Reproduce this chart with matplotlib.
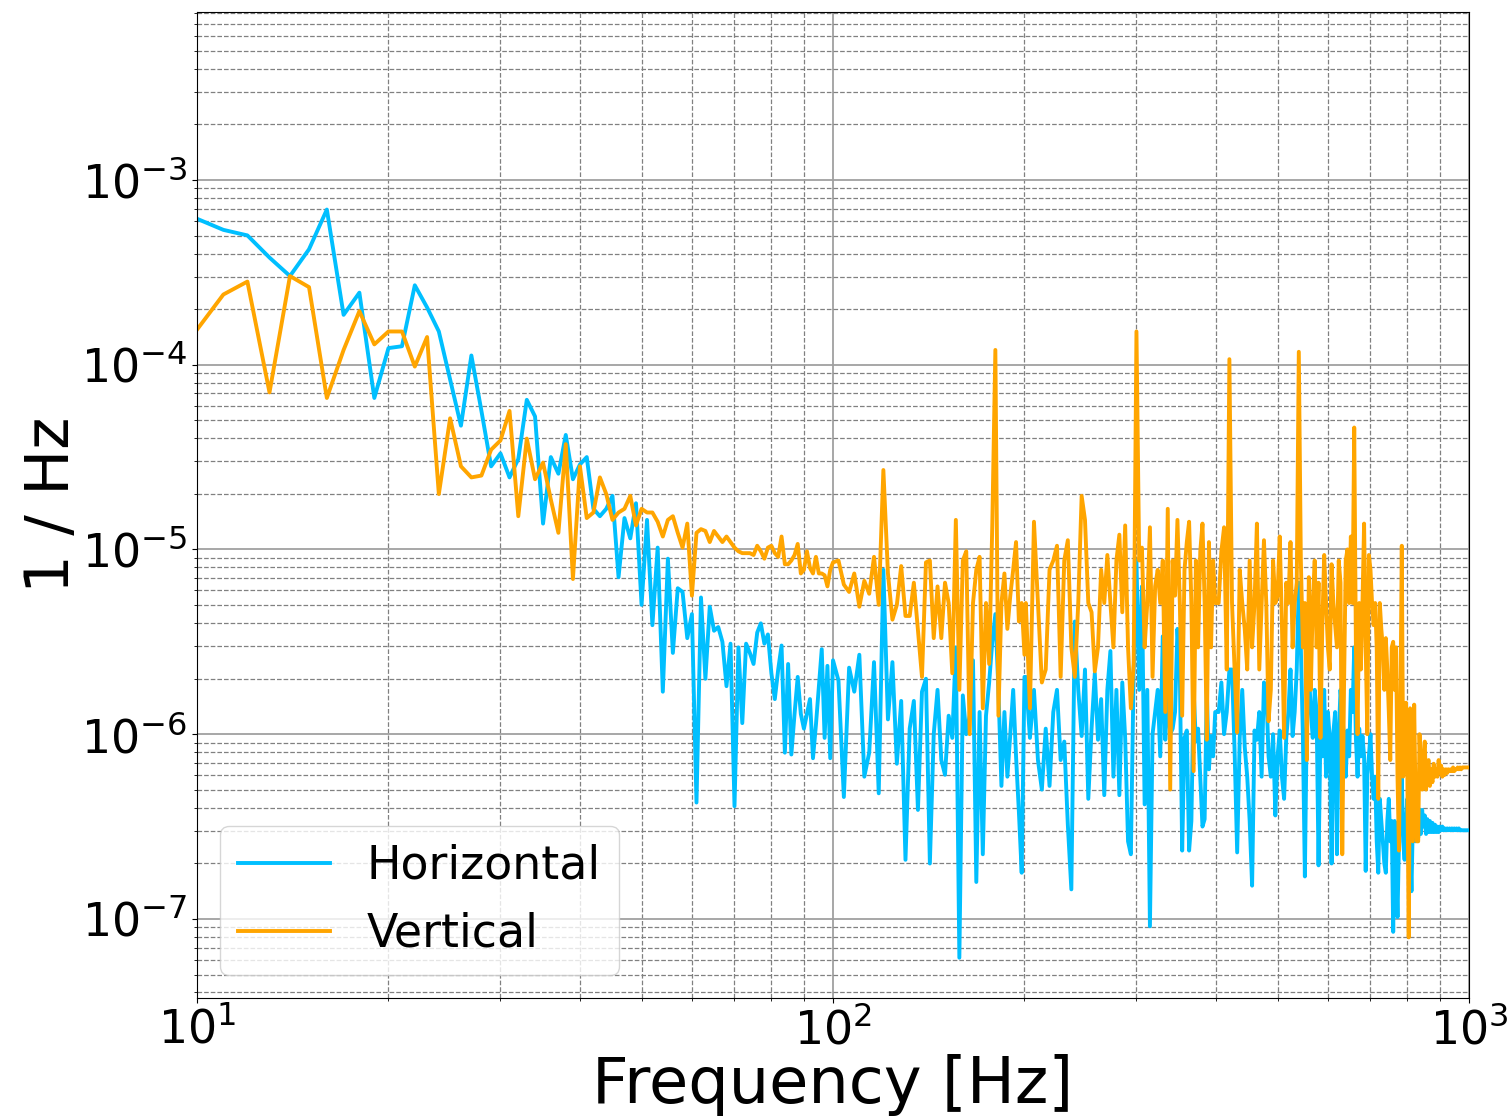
import numpy as np
import matplotlib
matplotlib.use("Agg")
import matplotlib.pyplot as plt

# frequency bins [Hz]
freq_a = np.arange(10, 101, 1)
freq_b = np.arange(102, 201, 2)
freq_c = np.arange(201, 400, 3)
freq_d = np.arange(404, 1001, 4)

# Horizontal PSD, log10 of value [1/Hz]
horiz_a = [-3.21, -3.27, -3.30, -3.42, -3.52, -3.375, -3.16, -3.73, -3.61, -4.18,
           -3.91, -3.90, -3.57, -3.69, -3.82, -4.08, -4.33, -3.95, -4.25, -4.55,
           -4.48, -4.61, -4.51, -4.19, -4.28, -4.86, -4.50, -4.59, -4.38, -4.62,
           -4.54, -4.50, -4.78, -4.82, -4.78, -4.71, -5.15, -4.83, -4.94, -4.75,
           -5.30, -4.84, -5.41, -4.99, -5.77, -5.05, -5.56, -5.21, -5.23, -5.48,
           -5.35, -6.37, -5.26, -5.70, -5.31, -5.44, -5.42, -5.50, -5.74, -5.51,
           -6.39, -5.53, -5.94, -5.51, -5.56, -5.62, -5.45, -5.40, -5.51, -5.46,
           -5.67, -5.81, -5.65, -5.52, -6.10, -5.62, -6.11, -5.89, -5.69, -5.89,
           -5.97, -5.89, -5.81, -6.13, -5.95, -5.74, -5.54, -6.02, -5.63, -6.13,
           -5.60]
horiz_b = [-5.71, -6.34, -5.64, -5.77, -5.57, -6.23, -6.10, -5.61, -6.32, -5.11,
           -5.92, -5.61, -6.16, -5.82, -6.68, -5.97, -5.82, -6.41, -5.77, -5.70,
           -6.70, -6.00, -5.76, -6.14, -6.22, -5.90, -6.02, -5.53, -7.21, -5.79,
           -6.00, -5.90, -5.60, -6.80, -5.88, -6.65, -5.90, -5.72, -5.50, -5.35,
           -5.76, -6.28, -5.88, -6.23, -6.00, -5.76, -6.12, -6.42, -6.75, -5.69]
horiz_c = [-5.69, -6.02, -5.76, -6.14, -6.30, -5.97, -6.28, -5.88, -5.76, -6.14,
           -6.04, -6.49, -6.84, -5.39, -5.76, -6.01, -5.65, -6.35, -5.97, -5.67,
           -6.03, -5.81, -6.33, -5.76, -5.55, -6.23, -5.76, -6.33, -5.72, -6.02,
           -6.58, -6.65, -5.65, -5.06, -5.76, -5.20, -6.38, -5.76, -7.04, -6.00,
           -5.88, -5.76, -6.12, -5.47, -6.03, -5.76, -6.00, -5.97, -5.88, -5.43,
           -5.65, -6.63, -6.02, -5.98, -6.63, -6.47, -5.76, -6.04, -5.97, -6.23,
           -6.50, -6.46, -5.76, -6.19, -6.01, -6.12, -5.88]
horiz_d = [-5.88, -5.72, -6.00, -5.88, -5.65, -5.65, -6.09, -6.64, -6.02, -5.76,
           -6.07, -6.23, -6.47, -6.82, -5.98, -6.03, -5.88, -6.23, -5.72, -5.76,
           -6.12, -6.23, -6.00, -6.44, -6.12, -5.98, -6.23, -6.35, -6.02, -5.88,
           -5.65, -6.01, -5.88, -5.65, -5.18,
           -5.53, -6.00, -6.77, -5.88, -5.65, -5.88, -6.02, -5.76, -5.88, -6.71,
           -5.98, -6.12, -5.76, -6.23, -5.88, -6.02, -6.70, -5.99, -5.88, -6.65,
           -6.01, -5.76, -5.88, -6.03, -6.23, -5.98, -6.12, -5.76, -5.88, -5.53,
           -6.02, -6.23, -5.97, -6.12, -6.01, -6.12, -6.74, -6.23, -6.12, -6.00,
           -6.23, -6.35, -6.23, -6.58, -6.75, -6.35, -6.47, -6.58, -6.70, -6.75,
           -6.47, -6.35, -6.58, -6.47, -7.07, -6.47, -6.70, -6.99, -6.58, -6.35,
           -6.23, -6.58, -6.68, -6.47, -6.35, -6.70, -6.58, -6.85, -6.47, -6.35,
           -6.58, -6.42, -6.56, -6.41, -6.54, -6.41, -6.50, -6.44, -6.54, -6.46,
           -6.53, -6.47, -6.53, -6.48, -6.53, -6.49, -6.53, -6.50, -6.53, -6.50,
           -6.52, -6.50, -6.52, -6.51, -6.52, -6.51, -6.52, -6.51, -6.52, -6.51,
           -6.52, -6.51, -6.52, -6.51, -6.52, -6.51, -6.52, -6.52, -6.52, -6.52,
           -6.52, -6.52, -6.52, -6.52, -6.52]

# Vertical PSD, log10 of value [1/Hz]
vert_a = [-3.81, -3.62, -3.55, -4.15, -3.52, -3.58, -4.18, -3.92, -3.71, -3.89,
          -3.82, -3.82, -4.01, -3.85, -4.70, -4.29, -4.55, -4.61, -4.60, -4.46,
          -4.41, -4.25, -4.82, -4.40, -4.62, -4.53, -4.73, -4.91, -4.43, -5.16,
          -4.55, -4.83, -4.80, -4.61, -4.70, -4.84, -4.80, -4.78, -4.71, -4.87,
          -4.78, -4.80, -4.80, -4.85, -4.93, -4.84, -4.82, -4.91, -4.99, -4.86,
          -5.25, -4.91, -4.89, -4.90, -4.96, -4.90, -4.93, -4.96, -4.93, -4.96,
          -4.99, -5.01, -5.02, -5.02, -5.02, -5.03, -4.98, -5.01, -5.05, -4.99,
          -4.98, -5.02, -5.04, -4.93, -5.08, -5.08, -5.06, -5.03, -4.97, -5.13,
          -5.11, -5.01, -5.10, -5.13, -5.04, -5.13, -5.13, -5.14, -5.20, -5.11,
          -5.07]
vert_b = [-5.06, -5.19, -5.23, -5.13, -5.31, -5.17, -5.24, -5.04, -5.30, -4.57,
          -5.13, -5.38, -5.30, -5.09, -5.36, -5.36, -5.18, -5.44, -5.69, -5.07,
          -5.06, -5.48, -5.20, -5.48, -5.18, -5.29, -5.67, -4.84, -5.76, -5.06,
          -5.01, -6.00, -5.29, -5.11, -5.04, -5.86, -5.29, -5.62, -4.87, -3.92,
          -5.90, -5.29, -5.13, -5.43, -5.25, -5.11, -4.96, -5.39, -5.29, -5.57]
vert_c = [-5.29, -5.86, -4.85, -5.29, -5.72, -5.65, -5.11, -5.06, -4.98, -5.69,
          -5.06, -4.95, -5.53, -5.69, -5.29, -4.71, -4.84, -5.29, -5.34, -5.66,
          -5.53, -5.11, -5.29, -5.03, -5.29, -5.53, -5.06, -4.92, -5.34, -4.87,
          -5.53, -5.86, -5.62, -3.82, -5.06, -4.99, -5.53, -5.29, -4.88, -5.69,
          -5.20, -5.11, -5.29, -5.06, -5.88, -4.78, -6.30, -5.06, -5.25, -4.84,
          -5.29, -5.90, -5.11, -4.96, -4.85, -5.29, -6.20, -5.06, -5.53, -5.01,
          -4.86, -5.29, -6.03, -4.96, -5.53, -5.06, -5.29]
vert_d = [-5.29, -5.01, -4.88, -5.65, -3.97, -5.29, -5.65, -5.99, -5.11, -5.29,
          -5.43, -5.65, -5.06, -5.53, -5.29, -4.86, -5.65, -5.29, -4.95, -5.29,
          -5.93, -5.76, -5.06, -5.29, -5.25, -4.93, -5.41, -6.02, -5.18, -5.29,
          -4.96, -5.53, -5.29, -5.18, -3.93,
          -5.06, -5.53, -5.29, -6.14, -5.15, -5.76, -5.29, -5.06, -5.53, -5.18,
          -6.02, -5.41, -5.03, -5.29, -5.53, -5.65, -5.08, -5.29, -5.41, -5.53,
          -5.06, -5.18, -6.65, -5.76, -5.06, -5.00, -5.29, -4.93, -5.29, -4.34,
          -5.53, -6.00, -5.29, -5.65, -5.29, -4.86, -5.53, -6.00, -5.03, -5.11,
          -5.29, -5.41, -5.29, -5.53, -6.35, -5.29, -5.43, -5.53, -5.76, -5.48,
          -5.65, -5.88, -6.14, -5.53, -5.50, -5.76, -5.53, -6.23, -6.63, -5.88,
          -4.98, -6.23, -6.00, -5.83, -6.23, -7.10, -5.86, -6.23, -6.58, -5.84,
          -6.35, -6.58, -6.58, -6.00, -6.23, -6.30, -6.11, -6.04, -6.30, -6.16,
          -6.14, -6.28, -6.19, -6.26, -6.16, -6.23, -6.19, -6.23, -6.14, -6.21,
          -6.17, -6.23, -6.19, -6.22, -6.19, -6.21, -6.19, -6.20, -6.19, -6.20,
          -6.18, -6.20, -6.19, -6.19, -6.18, -6.19, -6.18, -6.19, -6.18, -6.18,
          -6.18, -6.18, -6.18, -6.18, -6.18]

freq = np.concatenate([freq_a, freq_b, freq_c, freq_d])
horizontal = 10.0 ** np.array(horiz_a + horiz_b + horiz_c + horiz_d)
vertical = 10.0 ** np.array(vert_a + vert_b + vert_c + vert_d)

plt.rcParams['font.family'] = ['DejaVu Sans']
fig = plt.figure(figsize=(15.11, 11.18), dpi=100)
ax = fig.add_axes([0.1304, 0.1073, 0.8418, 0.882])

ax.loglog(freq, horizontal, color='#00BFFF', lw=2.8, label='Horizontal')
ax.loglog(freq, vertical, color='#FFA500', lw=2.8, label='Vertical')

ax.set_xlim(10, 1000)
ax.set_ylim(3.73e-8, 8.12e-3)
ax.grid(True, which='major', color='#a0a0a0', linestyle='-', linewidth=1.3)
ax.grid(True, which='minor', color='#808080', linestyle='--', linewidth=0.9)
ax.set_axisbelow(True)

ax.tick_params(axis='both', which='major', labelsize=33)
ax.set_xlabel('Frequency [Hz]', fontsize=46, labelpad=0)
ax.set_ylabel('1 / Hz', fontsize=44, labelpad=-1)

ax.legend(loc='lower left', fontsize=33)

fig.savefig('out.png', dpi=100)
